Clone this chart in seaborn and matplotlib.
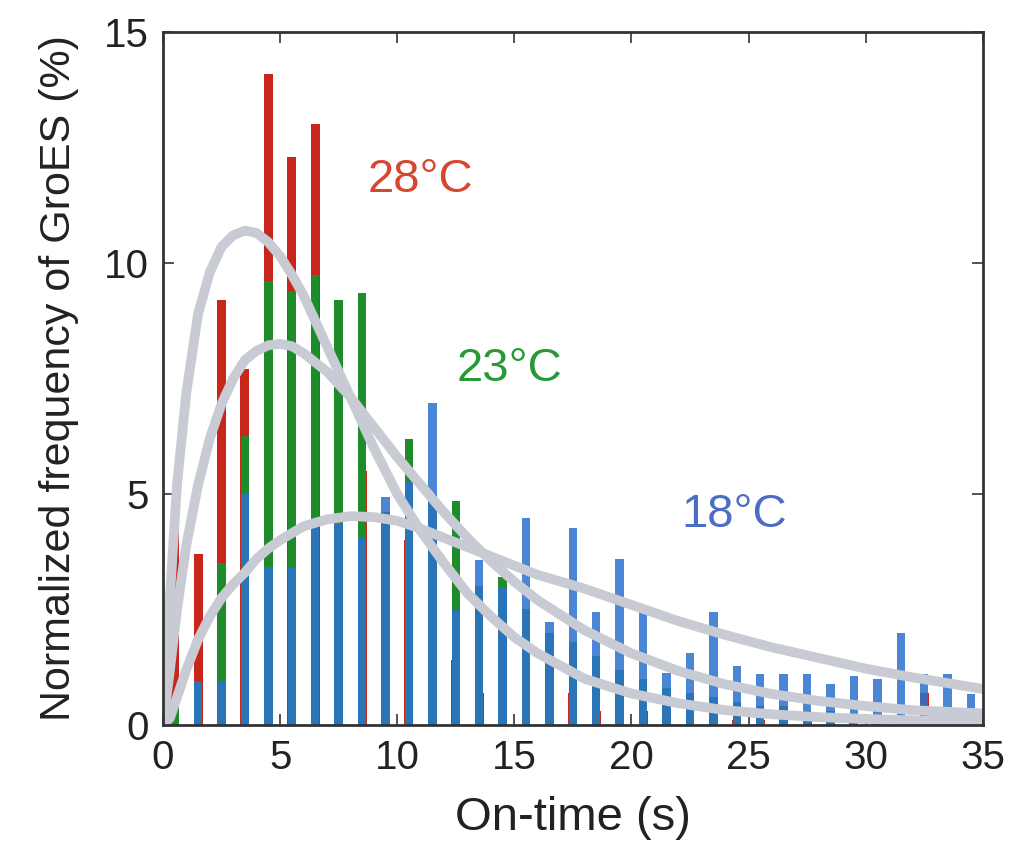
import matplotlib
matplotlib.use("Agg")
import matplotlib.pyplot as plt
import seaborn as sns
import pandas as pd

# ---------------- data ----------------
on_time = [0.5, 1.5, 2.5, 3.5, 4.5, 5.5, 6.5, 7.5, 8.5, 9.5,
           10.5, 11.5, 12.5, 13.5, 14.5, 15.5, 16.5, 17.5, 18.5, 19.5,
           20.5, 21.5, 22.5, 23.5, 24.5, 25.5, 26.5, 27.5, 28.5, 29.5,
           30.5, 31.5, 32.5, 33.5, 34.5]

freq_28C = [4.4, 3.7, 9.2, 7.7, 14.1, 12.3, 13.0, 8.5, 5.5, 3.6,
            4.0, 2.1, 1.4, 0.7, 0.3, 1.0, 0.7, 0.7, 0.3, 0.45,
            0.3, 0.2, 0.2, 0.4, 0.1, 0.1, 0.1, 0.1, 0.1, 0.1,
            0.0, 0.1, 0.7, 0.0, 0.0]

freq_23C = [0.4, 0.9, 3.5, 6.25, 9.6, 9.4, 9.75, 9.2, 9.35, 4.6,
            6.2, 5.0, 4.85, 3.0, 3.2, 2.5, 2.0, 1.8, 1.5, 1.2,
            1.0, 0.8, 0.7, 0.6, 0.5, 0.4, 0.4, 0.3, 0.3, 0.2,
            0.2, 0.2, 0.2, 0.1, 0.1]

freq_18C = [0.0, 0.96, 0.96, 5.0, 3.42, 3.39, 4.3, 4.37, 4.07, 4.94,
            5.25, 6.97, 2.48, 3.57, 2.98, 4.48, 2.22, 4.26, 2.44, 3.6,
            2.5, 1.12, 1.55, 2.45, 1.28, 1.1, 1.1, 1.1, 0.88, 1.06,
            1.0, 2.0, 1.1, 1.1, 0.67]

# fitted curves, points
fit_x = [0, 0.3, 0.6, 1, 1.5, 2, 2.5, 3, 3.5, 4, 4.5, 5, 5.5, 6, 7, 8, 9, 10,
         11, 12, 13, 14, 15, 16, 18, 20, 22, 24, 26, 28, 30, 32, 35]
fit_28C = [0, 2.8, 5.2, 7.2, 8.9, 9.8, 10.35, 10.6, 10.7, 10.65, 10.45, 10.15,
           9.75, 9.3, 8.2, 7.1, 6.0, 5.0, 4.2, 3.5, 2.85, 2.35, 1.9, 1.55,
           1.0, 0.68, 0.47, 0.32, 0.23, 0.17, 0.13, 0.1, 0.07]
fit_23C = [0, 1.2, 2.5, 3.9, 5.2, 6.2, 6.95, 7.5, 7.9, 8.1, 8.22, 8.25,
           8.2, 8.05, 7.65, 7.1, 6.45, 5.8, 5.2, 4.6, 4.05, 3.55, 3.1, 2.7,
           2.05, 1.55, 1.17, 0.88, 0.67, 0.52, 0.41, 0.32, 0.25]
fit_18C = [0, 0.15, 0.6, 1.2, 1.85, 2.35, 2.75, 3.05, 3.3, 3.6, 3.82, 4.0,
           4.15, 4.3, 4.45, 4.52, 4.5, 4.42, 4.25, 4.05, 3.85, 3.65, 3.45, 3.25,
           2.95, 2.6, 2.25, 1.95, 1.68, 1.45, 1.22, 1.03, 0.78]

labels = ["28\u00b0C", "23\u00b0C", "18\u00b0C"]
x_ticks = [0, 5, 10, 15, 20, 25, 30, 35]
y_ticks = [0, 5, 10, 15]

# ---------------- style ----------------
sns.set_theme(style="ticks")
plt.rcParams["font.family"] = ["Liberation Sans", "DejaVu Sans"]

RED = "#c8261a"
GREEN = "#1f8c2c"
BLUE = "#2c72cf"
FIT = "#c9cbd4"

fig = plt.figure(figsize=(10.09, 8.61), dpi=100)
ax = fig.add_axes([0.1615, 0.158, 0.8125, 0.8048])

df = pd.DataFrame({"t": on_time, "r": freq_28C, "g": freq_23C, "b": freq_18C})

sns.barplot(data=df, x="t", y="r", native_scale=True, width=0.38, color=RED,
            saturation=1, ax=ax, zorder=1, linewidth=0)
sns.barplot(data=df, x="t", y="g", native_scale=True, width=0.36, color=GREEN,
            saturation=1, ax=ax, zorder=2, linewidth=0)
sns.barplot(data=df, x="t", y="b", native_scale=True, width=0.36, color=BLUE,
            saturation=1, ax=ax, zorder=3, linewidth=0, alpha=0.86)

fits = pd.DataFrame({"x": fit_x, "a": fit_28C, "b": fit_23C, "c": fit_18C})
for col in ["a", "b", "c"]:
    sns.lineplot(data=fits, x="x", y=col, ax=ax, color=FIT, linewidth=7,
                 zorder=5, sort=False, solid_capstyle="butt")

ax.text(11.0, 11.8, labels[0], color="#d5472f", fontsize=34, ha="center", va="center", zorder=6)
ax.text(14.8, 7.7, labels[1], color="#259a36", fontsize=34, ha="center", va="center", zorder=6)
ax.text(24.4, 4.55, labels[2], color="#4a6ec4", fontsize=34, ha="center", va="center", zorder=6)

ax.set_xlim(0, 35)
ax.set_ylim(0, 15)
ax.set_xticks(x_ticks)
ax.set_yticks(y_ticks)
ax.set_xticklabels([str(v) for v in x_ticks])
ax.set_yticklabels([str(v) for v in y_ticks])
ax.tick_params(direction="in", length=8, width=1.2, colors="#333333",
               labelcolor="#222222", labelsize=29, top=True, right=True, pad=10)
for s in ax.spines.values():
    s.set_visible(True)
    s.set_linewidth(2)
    s.set_color("#333333")
    s.set_zorder(10)

ax.set_xlabel("On-time (s)", fontsize=34, color="#222222", labelpad=14)
ax.set_ylabel("Normalized frequency of GroES (%)", fontsize=31, color="#222222", labelpad=18)

fig.savefig("out.png", dpi=100)
